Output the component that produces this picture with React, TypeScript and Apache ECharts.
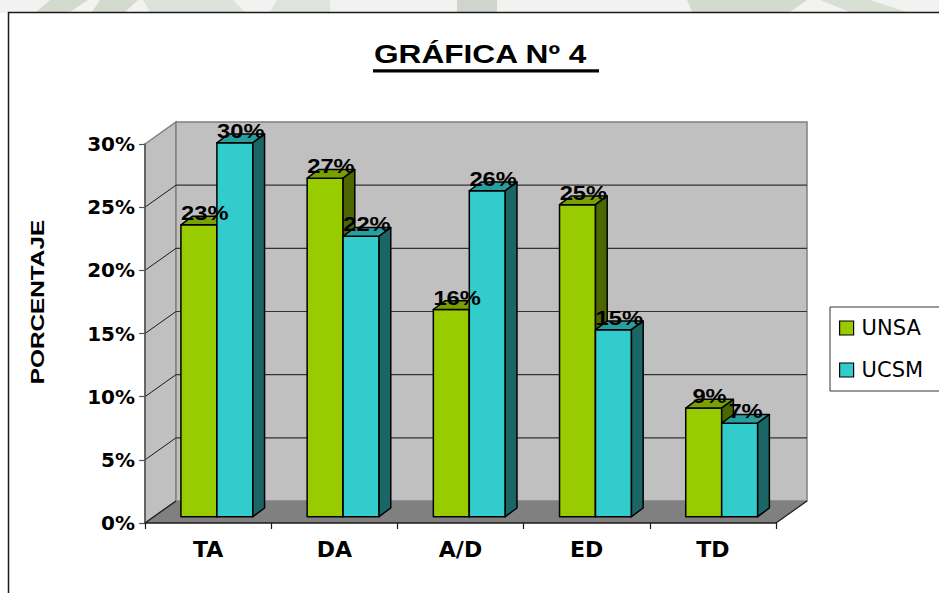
import React, { useEffect, useRef } from 'react';
import * as echarts from 'echarts';

// ---- data ----
const categories = ['TA', 'DA', 'A/D', 'ED', 'TD'];
const seriesNames = ['UNSA', 'UCSM'];
const unsaValues = [23.1, 26.8, 16.4, 24.7, 8.6];
const ucsmValues = [29.6, 22.2, 25.8, 14.8, 7.4];
const yMin = 0;
const yMax = 30;
const yStep = 5;

// ---- styles ----
const FONT = '"DejaVu Sans", "Liberation Sans", Arial, sans-serif';
const ARIAL = '"Liberation Sans", Arial, sans-serif';
const WALL: [number, number] = [31, -22]; // depth of the whole 3D box
const FRONT: [number, number] = [8.8, -6.3]; // bar front face offset
const DEPTH: [number, number] = [11.7, -8.7]; // bar depth
const BAR_FRAC = 0.285;
const GREEN = { front: '#99cc00', top: '#7a9f00', side: '#4c6600' };
const CYAN = { front: '#33cccc', top: '#2a9d9d', side: '#1a6666' };

function barRenderer(side: number, colors: { front: string; top: string; side: string }) {
  return (params: any, api: any) => {
    const cat = api.value(0);
    const v = api.value(1);
    const base = api.coord([cat, 0]);
    const topPt = api.coord([cat, v]);
    const band = api.size([1, 0])[0];
    const w = band * BAR_FRAC;
    const xl = (side < 0 ? base[0] - w : base[0]) + FRONT[0];
    const xr = xl + w;
    const yb = base[1] + FRONT[1];
    const yt = topPt[1] + FRONT[1];
    const [dx, dy] = DEPTH;
    const st = { stroke: '#000', lineWidth: 1.5, lineJoin: 'round' };
    return {
      type: 'group',
      children: [
        { type: 'rect', shape: { x: xl, y: yt, width: w, height: yb - yt }, style: { fill: colors.front, ...st } },
        {
          type: 'polygon',
          shape: { points: [[xl, yt], [xr, yt], [xr + dx, yt + dy], [xl + dx, yt + dy]] },
          style: { fill: colors.top, ...st },
        },
        {
          type: 'polygon',
          shape: { points: [[xr, yt], [xr + dx, yt + dy], [xr + dx, yb + dy], [xr, yb]] },
          style: { fill: colors.side, ...st },
        },
      ],
    };
  };
}

function labelRenderer(side: number) {
  return (params: any, api: any) => {
    const cat = api.value(0);
    const v = api.value(1);
    const base = api.coord([cat, 0]);
    const topPt = api.coord([cat, v]);
    const band = api.size([1, 0])[0];
    const w = band * BAR_FRAC;
    const xl = (side < 0 ? base[0] - w : base[0]) + FRONT[0];
    const cx = xl + w / 2 + DEPTH[0] / 2;
    const cy = topPt[1] + FRONT[1] - 12;
    return {
      type: 'text',
      x: cx,
      y: cy,
      scaleX: 1.13,
      style: {
        text: Math.round(v) + '%',
        align: 'center',
        verticalAlign: 'middle',
        fill: '#000',
        font: `bold 21px ${ARIAL}`,
      },
    };
  };
}

function wallRenderer(params: any, api: any) {
  const cs = params.coordSys;
  const x0 = cs.x;
  const x1 = cs.x + cs.width;
  const yTop = api.coord([0, yMax])[1];
  const yBot = api.coord([0, yMin])[1];
  const [wx, wy] = WALL;
  const children: any[] = [];
  children.push({
    type: 'polygon',
    shape: { points: [[x0, yTop], [x0 + wx, yTop + wy], [x0 + wx, yBot + wy], [x0, yBot]] },
    style: { fill: '#c0c0c0', stroke: '#808080', lineWidth: 1.5 },
  });
  children.push({
    type: 'rect',
    shape: { x: x0 + wx, y: yTop + wy, width: x1 - x0, height: yBot - yTop },
    style: { fill: '#c0c0c0', stroke: '#808080', lineWidth: 1.5 },
  });
  children.push({
    type: 'polygon',
    shape: { points: [[x0, yBot], [x1, yBot], [x1 + wx, yBot + wy], [x0 + wx, yBot + wy]] },
    style: { fill: '#808080' },
  });
  children.push({
    type: 'line',
    shape: { x1: x1, y1: yBot, x2: x1 + wx, y2: yBot + wy },
    style: { stroke: '#1a1a1a', lineWidth: 1.2 },
  });
  children.push({
    type: 'line',
    shape: { x1: x0, y1: yBot, x2: x0 + wx, y2: yBot + wy },
    style: { stroke: '#1a1a1a', lineWidth: 1.2 },
  });
  for (let t = yMin + yStep; t < yMax; t += yStep) {
    const y = api.coord([0, t])[1];
    children.push({
      type: 'line',
      shape: { x1: x0 + wx, y1: y + wy, x2: x1 + wx, y2: y + wy },
      style: { stroke: '#333', lineWidth: 1.2 },
    });
    children.push({
      type: 'line',
      shape: { x1: x0, y1: y, x2: x0 + wx, y2: y + wy },
      style: { stroke: '#1a1a1a', lineWidth: 1 },
    });
  }
  return { type: 'group', children };
}

export default function App() {
  const ref = useRef<HTMLDivElement>(null);
  useEffect(() => {
    if (!ref.current) return;
    const chart = echarts.init(ref.current, undefined, { renderer: 'svg' });
    const unsaData = unsaValues.map((v, i) => [i, v]);
    const ucsmData = ucsmValues.map((v, i) => [i, v]);
    chart.setOption({
      animation: false,
      backgroundColor: '#ffffff',
      grid: { left: 145, top: 144, right: 163, bottom: 70, containLabel: false },
      xAxis: {
        type: 'category',
        data: categories,
        boundaryGap: true,
        z: 6,
        axisLine: { show: true, lineStyle: { color: '#1a1a1a', width: 1.5 } },
        axisTick: { show: true, length: 6, lineStyle: { color: '#1a1a1a', width: 1.2 } },
        axisLabel: { margin: 15, color: '#000', fontFamily: FONT, fontWeight: 'bold', fontSize: 22, lineHeight: 22 },
        splitLine: { show: false },
      },
      yAxis: {
        type: 'value',
        min: yMin,
        max: yMax,
        interval: yStep,
        z: 6,
        axisLine: { show: true, lineStyle: { color: '#555', width: 1.5 } },
        axisTick: { show: true, length: 6, lineStyle: { color: '#555', width: 1.2 } },
        axisLabel: { margin: 10, color: '#000', fontFamily: FONT, fontWeight: 'bold', fontSize: 20, formatter: '{value}%' },
        splitLine: { show: false },
      },
      legend: {
        orient: 'vertical',
        left: 830,
        top: 307,
        padding: [9, 30, 9, 9],
        itemGap: 18,
        itemWidth: 14,
        itemHeight: 14,
        backgroundColor: '#fff',
        borderColor: '#333',
        borderWidth: 1,
        textStyle: { fontFamily: FONT, fontSize: 21, color: '#000', lineHeight: 24, padding: [0, 0, 0, 3] },
        data: [
          { name: seriesNames[0], icon: 'rect', itemStyle: { color: GREEN.front, borderColor: '#000', borderWidth: 1.2 } },
          { name: seriesNames[1], icon: 'rect', itemStyle: { color: CYAN.front, borderColor: '#000', borderWidth: 1.2 } },
        ],
      },
      graphic: [
        { type: 'rect', z: -10, shape: { x: 0, y: 0, width: 939, height: 13 }, style: { fill: '#f2f3f1' } },
        { type: 'polygon', z: -9, shape: { points: [[50, 0], [88, 0], [70, 12], [36, 12]] }, style: { fill: '#d3dbcf' } },
        { type: 'polygon', z: -9, shape: { points: [[100, 0], [138, 0], [125, 12], [92, 12]] }, style: { fill: '#d3dbcf' } },
        { type: 'polygon', z: -9, shape: { points: [[143, 0], [233, 0], [245, 12], [150, 12]] }, style: { fill: '#dde2da' } },
        { type: 'polygon', z: -9, shape: { points: [[277, 0], [330, 0], [330, 12], [270, 12]] }, style: { fill: '#dfe3dd' } },
        { type: 'rect', z: -9, shape: { x: 457, y: 0, width: 40, height: 12 }, style: { fill: '#cfd4cc' } },
        { type: 'polygon', z: -9, shape: { points: [[687, 0], [807, 0], [790, 12], [692, 12]] }, style: { fill: '#d3dbcf' } },
        { type: 'polygon', z: -9, shape: { points: [[820, 0], [870, 0], [907, 12], [850, 12]] }, style: { fill: '#d8dfd4' } },
        {
          type: 'rect',
          z: -5,
          shape: { x: 8.5, y: 12.5, width: 960, height: 620 },
          style: { fill: '#ffffff', stroke: '#1a1a1a', lineWidth: 1.5 },
        },
        {
          type: 'text',
          z: 10,
          x: 374,
          y: 54.5,
          scaleX: 1.24,
          style: { text: 'GRÁFICA Nº 4', align: 'left', verticalAlign: 'middle', fill: '#000', font: `bold 25.5px ${ARIAL}` },
        },
        { type: 'rect', z: 10, shape: { x: 373, y: 69.3, width: 226, height: 3.3 }, style: { fill: '#000' } },
        {
          type: 'text',
          z: 10,
          x: 37,
          y: 302,
          rotation: Math.PI / 2,
          scaleX: 1.28,
          style: { text: 'PORCENTAJE', align: 'center', verticalAlign: 'middle', fill: '#000', font: `bold 19px ${ARIAL}` },
        },
      ],
      series: [
        { type: 'custom', name: 'walls', z: 1, clip: false, silent: true, data: [[0, 0]], encode: { x: 0, y: 1 }, renderItem: wallRenderer },
        { type: 'custom', name: seriesNames[0], z: 2, clip: false, data: unsaData, encode: { x: 0, y: 1 }, itemStyle: { color: GREEN.front }, renderItem: barRenderer(-1, GREEN) },
        { type: 'custom', name: seriesNames[1], z: 3, clip: false, data: ucsmData, encode: { x: 0, y: 1 }, itemStyle: { color: CYAN.front }, renderItem: barRenderer(1, CYAN) },
        { type: 'custom', name: 'UNSA labels', z: 4, clip: false, silent: true, data: unsaData, encode: { x: 0, y: 1 }, renderItem: labelRenderer(-1) },
        { type: 'custom', name: 'UCSM labels', z: 4, clip: false, silent: true, data: ucsmData, encode: { x: 0, y: 1 }, renderItem: labelRenderer(1) },
      ],
    });
    return () => chart.dispose();
  }, []);
  return <div ref={ref} style={{ position: 'fixed', left: 0, top: 0, width: 939, height: 593 }} />;
}
